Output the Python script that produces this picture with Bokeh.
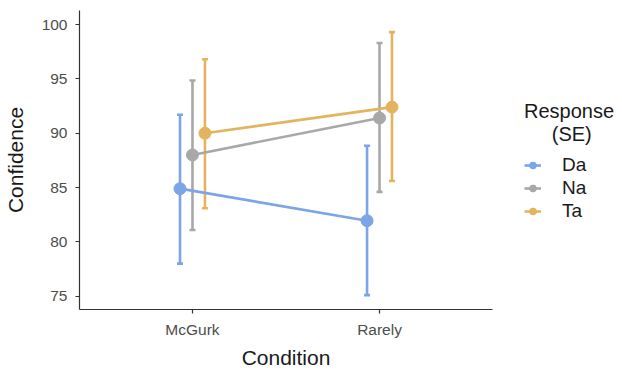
from bokeh.plotting import figure
from bokeh.models import (Range1d, FixedTicker, Whisker, TeeHead, ColumnDataSource,
                          Legend, LegendItem)
from bokeh.embed import file_html
from bokeh.resources import INLINE

conditions = ["McGurk", "Rarely"]
responses = ["Da", "Na", "Ta"]
colors = ["#7BA5E6", "#A8A8A8", "#E3B45D"]
mean_vals = {"Da": [84.9, 81.95], "Na": [88.0, 91.4], "Ta": [90.0, 92.4]}
lower_vals = {"Da": [78.0, 75.1], "Na": [81.1, 84.6], "Ta": [83.1, 85.6]}
upper_vals = {"Da": [91.7, 88.85], "Na": [94.85, 98.3], "Ta": [96.8, 99.3]}
y_ticks = [75, 80, 85, 90, 95, 100]
dodge_width = 0.2
legend_title = "Response\n\u00a0\u00a0\u00a0\u00a0\u00a0(SE)"

FONT = "Liberation Sans"

p = figure(frame_width=413, frame_height=299, output_backend="svg", toolbar_location=None,
           x_range=Range1d(0.396, 2.604), y_range=Range1d(73.78, 101.29),
           min_border_left=74, min_border_right=0, min_border_top=10, min_border_bottom=40)
p.grid.visible = False
p.outline_line_color = None

for ax in (p.xaxis[0], p.yaxis[0]):
    ax.axis_line_color = "#333333"
    ax.axis_line_width = 1.2
    ax.major_tick_line_color = "#333333"
    ax.major_tick_line_width = 1.2
    ax.major_tick_out = 4
    ax.major_tick_in = 0
    ax.minor_tick_line_color = None
    ax.major_label_text_font = FONT
    ax.major_label_text_font_size = "15.5px"
    ax.major_label_text_color = "#4D4D4D"
    ax.axis_label_text_font = FONT
    ax.axis_label_text_font_size = "21px"
    ax.axis_label_text_font_style = "normal"
    ax.axis_label_text_color = "#1A1A1A"

p.xaxis.ticker = FixedTicker(ticks=[i + 1 for i in range(len(conditions))])
p.xaxis.major_label_overrides = {i + 1: c for i, c in enumerate(conditions)}
p.xaxis.axis_label = "Condition"
p.xaxis.major_label_standoff = 7
p.xaxis.axis_label_standoff = 5
p.yaxis.ticker = FixedTicker(ticks=y_ticks)
p.yaxis.axis_label = "Confidence"
p.yaxis.major_label_standoff = 8
p.yaxis.axis_label_standoff = 12

items = []
n = len(responses)
for k, (r, col) in enumerate(zip(responses, colors)):
    off = (k - (n - 1) / 2) * dodge_width / n
    xs = [i + 1 + off for i in range(len(conditions))]
    src = ColumnDataSource(dict(x=xs, y=mean_vals[r], lo=lower_vals[r], hi=upper_vals[r]))
    w = Whisker(source=src, base="x", lower="lo", upper="hi", dimension="height",
                line_color=col, line_width=2.6,
                upper_head=TeeHead(size=6, line_color=col, line_width=2.6),
                lower_head=TeeHead(size=6, line_color=col, line_width=2.6))
    p.add_layout(w)
    lr = p.line("x", "y", source=src, line_color=col, line_width=2.6)
    sr = p.scatter("x", "y", source=src, size=12, fill_color=col, line_color=col)
    items.append(LegendItem(label=r, renderers=[lr, sr]))

legend = Legend(items=items, location=(32, 87), orientation="vertical",
                title=legend_title, title_text_font=FONT, title_text_font_size="20px",
                title_text_font_style="normal", title_text_color="#1A1A1A", title_standoff=8,
                label_text_font=FONT, label_text_font_size="19px", label_text_color="#1A1A1A",
                glyph_width=17, glyph_height=22, label_height=22, label_standoff=21,
                spacing=1, padding=0, margin=0,
                border_line_color=None, background_fill_alpha=0)
p.add_layout(legend, "right")

open("out.html", "w").write(file_html(p, INLINE))
